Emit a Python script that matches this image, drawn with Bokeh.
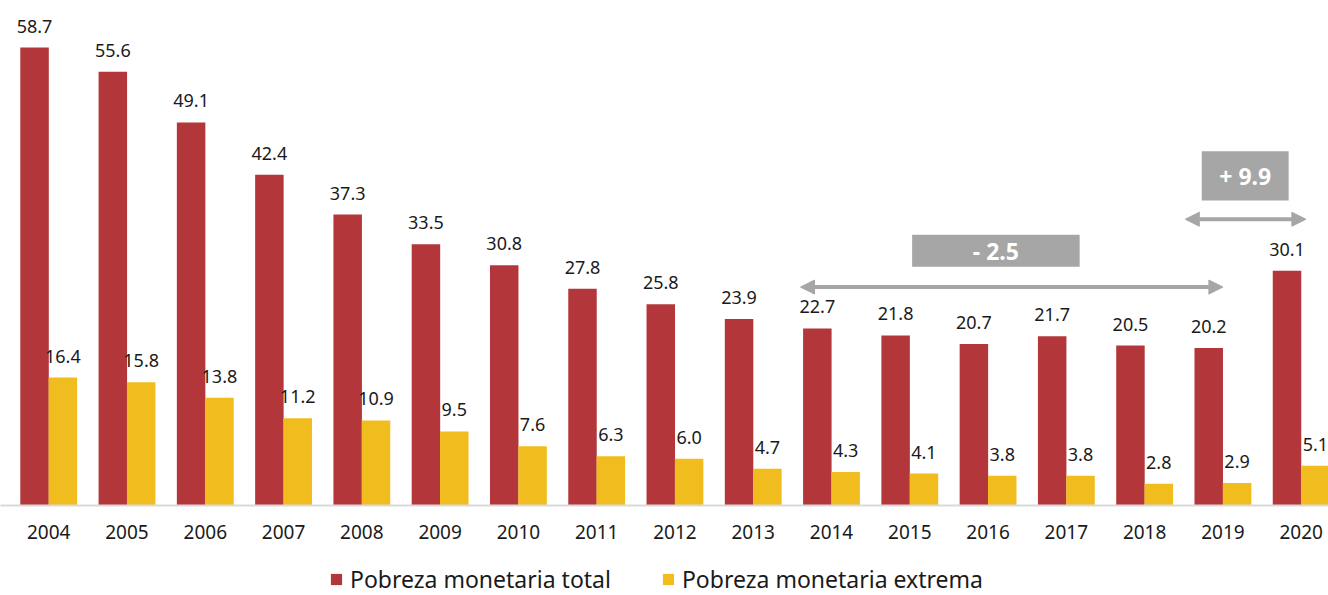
from bokeh.plotting import figure
from bokeh.models import (ColumnDataSource, Range1d, FixedTicker, LabelSet, Legend, LegendItem,
                          Arrow, NormalHead, BoxAnnotation, Label)
from bokeh.layouts import column
from bokeh.core.properties import value
from bokeh.transform import dodge
from bokeh.embed import file_html
from bokeh.resources import INLINE

years = [2004, 2005, 2006, 2007, 2008, 2009, 2010, 2011, 2012, 2013, 2014, 2015, 2016, 2017, 2018, 2019, 2020]
total = [58.7, 55.6, 49.1, 42.4, 37.3, 33.5, 30.8, 27.8, 25.8, 23.9, 22.7, 21.8, 20.7, 21.7, 20.5, 20.2, 30.1]
extrema = [16.4, 15.8, 13.8, 11.2, 10.9, 9.5, 7.6, 6.3, 6.0, 4.7, 4.3, 4.1, 3.8, 3.8, 2.8, 2.9, 5.1]
series_names = ["Pobreza monetaria total", "Pobreza monetaria extrema"]
change_labels = ["- 2.5", "+ 9.9"]

RED = "#B3373A"
YEL = "#F1BC1E"
GRAY = "#A6A6A6"
TXT = "#1A1A1A"
FONT = "Noto Sans"

src = ColumnDataSource(dict(
    year=years, total=total, extrema=extrema,
    total_lbl=[f"{v:.1f}" for v in total],
    extrema_lbl=[f"{v:.1f}" for v in extrema],
))

XR = (2003.384, 2020.349)
off = 0.181
w = 0.364

p = figure(width=1328, height=560, output_backend="svg", toolbar_location=None,
           x_range=Range1d(*XR), y_range=Range1d(0, 64.74),
           min_border_left=0, min_border_right=0, min_border_top=0, min_border_bottom=55)
p.outline_line_color = None
p.grid.visible = False
p.yaxis.visible = False

r1 = p.vbar(x=dodge("year", -off, range=p.x_range), top="total", width=w, source=src,
            fill_color=RED, line_color=None)
r2 = p.vbar(x=dodge("year", off, range=p.x_range), top="extrema", width=w, source=src,
            fill_color=YEL, line_color=None)

for xcol, ycol, tcol in [(-off, "total", "total_lbl"), (off, "extrema", "extrema_lbl")]:
    p.add_layout(LabelSet(x=dodge("year", xcol, range=p.x_range), y=ycol, text=tcol, source=src,
                          text_align="center", text_baseline="alphabetic", y_offset=15,
                          text_font=value(FONT), text_font_size="18px", text_color=TXT))

ax = p.xaxis[0]
ax.ticker = FixedTicker(ticks=years)
ax.axis_line_color = "#D9D9D9"
ax.axis_line_width = 2
ax.major_tick_line_color = None
ax.minor_tick_line_color = None
ax.major_label_standoff = 13
ax.major_label_text_font = FONT
ax.major_label_text_font_size = "19px"
ax.major_label_text_color = TXT

# change annotations
head = dict(size=14, fill_color=GRAY, line_color=GRAY)
p.add_layout(Arrow(x_start=2013.604, y_start=28.0, x_end=2019.0, y_end=28.0,
                   line_color=GRAY, line_width=4, start=NormalHead(**head), end=NormalHead(**head)))
p.add_layout(Arrow(x_start=2018.52, y_start=36.7, x_end=2020.06, y_end=36.7,
                   line_color=GRAY, line_width=4, start=NormalHead(**head), end=NormalHead(**head)))
p.add_layout(BoxAnnotation(left=2015.03, right=2017.17, bottom=30.6, top=34.7,
                           fill_color=GRAY, fill_alpha=1, line_color=None))
p.add_layout(BoxAnnotation(left=2018.73, right=2019.84, bottom=39.1, top=45.4,
                           fill_color=GRAY, fill_alpha=1, line_color=None))
p.add_layout(Label(x=2016.1, y=32.65, text=change_labels[0], text_align="center",
                   text_baseline="middle", text_color="white", text_font=FONT,
                   text_font_style="bold", text_font_size="23px"))
p.add_layout(Label(x=2019.285, y=42.25, text=change_labels[1], text_align="center",
                   text_baseline="middle", text_color="white", text_font=FONT,
                   text_font_style="bold", text_font_size="23px"))

# legend strip (a second figure holding only the legend)
q = figure(width=1328, height=35, output_backend="svg", toolbar_location=None,
           x_range=Range1d(*XR), y_range=Range1d(1000, 1001),
           min_border_left=0, min_border_right=0, min_border_top=0, min_border_bottom=0)
q.outline_line_color = None
q.grid.visible = False
q.axis.visible = False
l1 = q.vbar(x="year", top="total", width=w, source=src, fill_color=RED, line_color=None)
l2 = q.vbar(x="year", top="extrema", width=w, source=src, fill_color=YEL, line_color=None)
legend = Legend(items=[LegendItem(label=series_names[0], renderers=[l1]),
                       LegendItem(label=series_names[1], renderers=[l2])],
                orientation="horizontal", location=(329, 0),
                border_line_color=None, background_fill_alpha=0,
                label_text_font=FONT, label_text_font_size="23px", label_text_color=TXT,
                glyph_width=14, glyph_height=14, label_standoff=7, spacing=50,
                padding=0, margin=0)
q.add_layout(legend, "center")

layout = column(p, q, spacing=0)
open("out.html", "w").write(file_html(layout, INLINE))
